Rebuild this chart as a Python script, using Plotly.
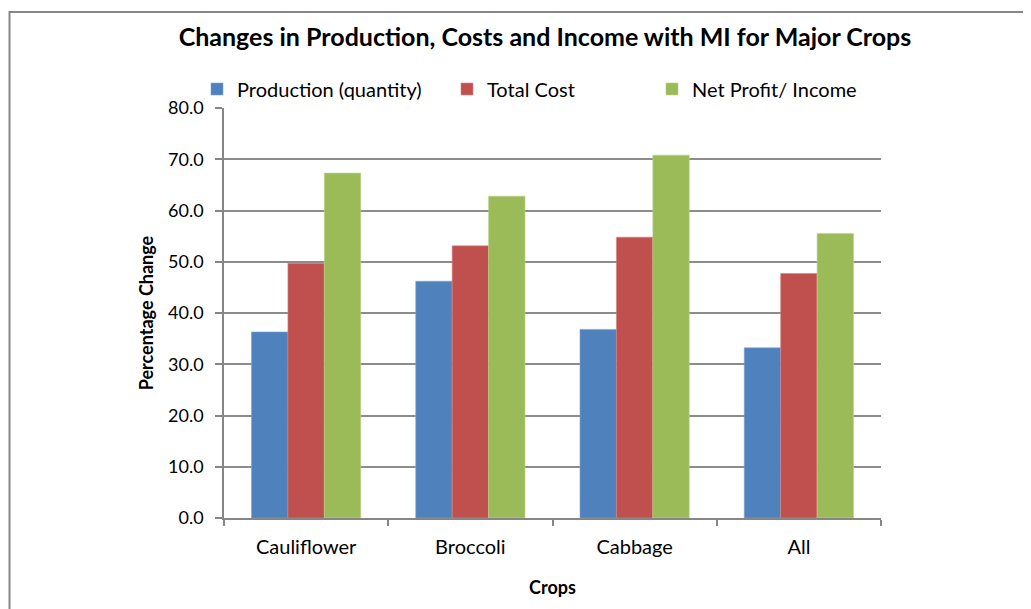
import plotly.graph_objects as go

crops = ["Cauliflower", "Broccoli", "Cabbage", "All"]
production = [36.3, 46.2, 36.8, 33.2]
total_cost = [49.7, 53.1, 54.8, 47.7]
net_profit = [67.3, 62.8, 70.8, 55.5]
y_ticks = [0, 10, 20, 30, 40, 50, 60, 70, 80]

FONT = "Lato"
OFF = 8  # page body margin offset

fig = go.Figure()
fig.add_trace(go.Bar(x=crops, y=production, name="Production (quantity)",
                     marker=dict(color="#4F81BD", line=dict(color="#7FA3D1", width=0.6)), legend="legend"))
fig.add_trace(go.Bar(x=crops, y=total_cost, name="Total Cost",
                     marker=dict(color="#C0504D", line=dict(color="#D8837F", width=0.6)), legend="legend2"))
fig.add_trace(go.Bar(x=crops, y=net_profit, name="Net Profit/ Income",
                     marker=dict(color="#9BBB59", line=dict(color="#BBD38A", width=0.6)), legend="legend3"))

# target screen positions of plot area
X0, X1, Y0, Y1 = 224, 881, 108, 518
L, T = X0 - OFF, Y0 - OFF
R, B = 1031 - (X1 - OFF), 609 - (Y1 - OFF)
W, H = X1 - X0, Y1 - Y0

def px(xp):
    return (xp - X0) / W

def py(yp):
    return (Y1 - yp) / H

leg_common = dict(orientation="h", yanchor="middle", xanchor="left",
                  font=dict(family=FONT, size=20, color="#000000"),
                  bgcolor="rgba(0,0,0,0)", itemwidth=30, tracegroupgap=0)

fig.update_layout(
    width=1031, height=609,
    margin=dict(l=L, r=R, t=T, b=B, autoexpand=False),
    paper_bgcolor="white", plot_bgcolor="white",
    showlegend=True,
    barmode="group", bargap=0.335, bargroupgap=0,
    title=dict(text="<b>Changes in Production, Costs and Income with MI for Major Crops</b>",
               xref="container", x=(545 - OFF) / 1031, xanchor="center",
               yref="container", y=1 - (37 - OFF) / 609, yanchor="middle",
               font=dict(family=FONT, size=25, color="#000000")),
    legend=dict(x=px(197), y=py(89), **leg_common),
    legend2=dict(x=px(447), y=py(89), **leg_common),
    legend3=dict(x=px(652), y=py(89), **leg_common),
    font=dict(family=FONT, size=20, color="#000000"),
    xaxis=dict(
        type="category", showline=True, linecolor="#868686", linewidth=1.5,
        ticks="outside", tickson="boundaries", ticklen=6, tickcolor="#868686", tickwidth=1.5,
        ticklabelstandoff=10,
        tickfont=dict(family=FONT, size=20, color="#000000"),
        title=dict(text="<b>Crops</b>", font=dict(family=FONT, size=18, color="#000000"), standoff=25),
        showgrid=False,
    ),
    yaxis=dict(
        range=[0, 80], tickvals=y_ticks, tickformat=".1f",
        showline=True, linecolor="#868686", linewidth=1.5,
        ticks="outside", ticklen=7, tickcolor="#868686", tickwidth=1.5,
        ticklabelstandoff=8,
        showgrid=True, gridcolor="#8C8C8C", gridwidth=1.5,
        zeroline=False,
        tickfont=dict(family=FONT, size=18, color="#000000"),
        title=dict(text="<b>Percentage Change</b>", font=dict(family=FONT, size=18, color="#000000"), standoff=10),
    ),
    shapes=[dict(type="rect", xref="paper", yref="paper",
                 x0=px(9.5), x1=px(1120), y0=py(720), y1=py(12),
                 line=dict(color="#878787", width=2), fillcolor="rgba(0,0,0,0)", layer="below")],
)

fig.write_html("out.html")
